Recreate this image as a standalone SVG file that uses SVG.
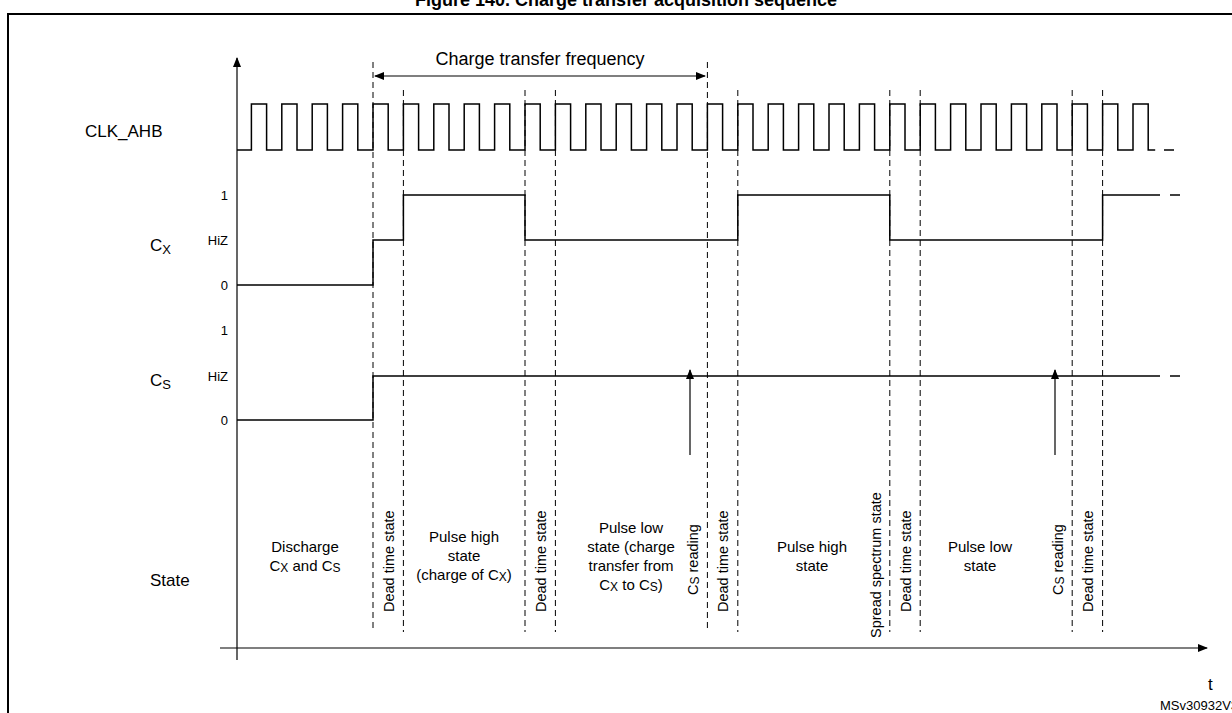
<svg xmlns="http://www.w3.org/2000/svg" width="1232" height="713" viewBox="0 0 1232 713">
<defs>
<marker id="ah" markerWidth="10" markerHeight="8" refX="9" refY="4" orient="auto" markerUnits="userSpaceOnUse"><path d="M0,0 L10,4 L0,8 z" fill="#000"/></marker>
<marker id="ahs" markerWidth="10" markerHeight="8" refX="1" refY="4" orient="auto" markerUnits="userSpaceOnUse"><path d="M10,0 L0,4 L10,8 z" fill="#000"/></marker>
</defs>
<style>
text{font-family:"Liberation Sans",Arial,sans-serif;fill:#000}
.l{font-size:17px}
.s{font-size:13px;text-anchor:end}
.m{font-size:15px;text-anchor:middle}
.r{font-size:14.5px}
.w{fill:none;stroke:#000;stroke-width:1.5}
.d{stroke:#000;stroke-width:1;stroke-dasharray:6,4}
.a{stroke:#000;stroke-width:1.2;fill:none}
</style>
<rect width="1232" height="713" fill="#fff"/>
<text x="626" y="6" font-size="18" font-weight="bold" text-anchor="middle">Figure 140. Charge transfer acquisition sequence</text>
<path d="M8,713 V14 H1232" fill="none" stroke="#000" stroke-width="2"/>
<g id="labels">
<text class="l" x="85" y="137">CLK_AHB</text>
<text class="l" x="150" y="251">C<tspan font-size="13" dy="3">X</tspan></text>
<text class="l" x="150" y="386">C<tspan font-size="13" dy="3">S</tspan></text>
<text class="l" x="150" y="586">State</text>
<text class="s" x="228" y="200">1</text>
<text class="s" x="228" y="245">HiZ</text>
<text class="s" x="228" y="290">0</text>
<text class="s" x="228" y="335">1</text>
<text class="s" x="228" y="381">HiZ</text>
<text class="s" x="228" y="425">0</text>
<text class="l" x="1208" y="690">t</text>
<text x="1160" y="710" font-size="13">MSv30932V3</text>
</g>
<g id="connectors">
<line class="a" x1="237" y1="660" x2="237" y2="58" marker-end="url(#ah)"/>
<line class="a" x1="220" y1="648" x2="1207" y2="648" marker-end="url(#ah)"/>
<line class="a" x1="375" y1="76" x2="705" y2="76" marker-start="url(#ahs)" marker-end="url(#ah)"/>
<line class="a" x1="690" y1="455" x2="690" y2="370" marker-end="url(#ah)"/>
<line class="a" x1="1055" y1="455" x2="1055" y2="370" marker-end="url(#ah)"/>
</g>
<text x="540" y="65" font-size="18" text-anchor="middle">Charge transfer frequency</text>
<g id="dashes">
<line class="d" x1="373" y1="62" x2="373" y2="632"/>
<line class="d" x1="707.4" y1="62" x2="707.4" y2="632"/>
<line class="d" x1="403.4" y1="90" x2="403.4" y2="632"/>
<line class="d" x1="525" y1="90" x2="525" y2="632"/>
<line class="d" x1="555.4" y1="90" x2="555.4" y2="632"/>
<line class="d" x1="737.8" y1="90" x2="737.8" y2="632"/>
<line class="d" x1="889.8" y1="90" x2="889.8" y2="632"/>
<line class="d" x1="920.2" y1="90" x2="920.2" y2="632"/>
<line class="d" x1="1072.2" y1="90" x2="1072.2" y2="632"/>
<line class="d" x1="1102.6" y1="90" x2="1102.6" y2="632"/>
</g>
<g id="clk">
<path class="w" d="M237,150 H251.4 v-46h15.2v46h15.2 v-46h15.2v46h15.2 v-46h15.2v46h15.2 v-46h15.2v46h15.2 v-46h15.2v46h15.2 v-46h15.2v46h15.2 v-46h15.2v46h15.2 v-46h15.2v46h15.2 v-46h15.2v46h15.2 v-46h15.2v46h15.2 v-46h15.2v46h15.2 v-46h15.2v46h15.2 v-46h15.2v46h15.2 v-46h15.2v46h15.2 v-46h15.2v46h15.2 v-46h15.2v46h15.2 v-46h15.2v46h15.2 v-46h15.2v46h15.2 v-46h15.2v46h15.2 v-46h15.2v46h15.2 v-46h15.2v46h15.2 v-46h15.2v46h15.2 v-46h15.2v46h15.2 v-46h15.2v46h15.2 v-46h15.2v46h15.2 v-46h15.2v46h15.2 v-46h15.2v46h15.2 v-46h15.2v46h15.2 v-46h15.2v46h15.2 v-46h15.2v46h7"/>
<line class="w" x1="1164" y1="150" x2="1174" y2="150"/>
</g>
<g id="cx">
<path class="w" d="M237,285 H373 V240 H403.4 V195 H525 V240 H737.8 V195 H889.8 V240 H1102.6 V195 H1160"/>
<line class="w" x1="1170" y1="195" x2="1180" y2="195"/>
</g>
<g id="cs">
<path class="w" d="M237,420 H373 V376 H1160"/>
<line class="w" x1="1170" y1="376" x2="1180" y2="376"/>
</g>
<g id="states">
<text class="m" x="305" y="552">Discharge</text>
<text class="m" x="305" y="571">C<tspan font-size="12" dy="1">X</tspan><tspan dy="-1"> and C</tspan><tspan font-size="12" dy="1">S</tspan></text>
<text class="m" x="464" y="542">Pulse high</text>
<text class="m" x="464" y="561">state</text>
<text class="m" x="464" y="580">(charge of C<tspan font-size="12" dy="1">X</tspan><tspan dy="-1">)</tspan></text>
<text class="m" x="631" y="533">Pulse low</text>
<text class="m" x="631" y="552">state (charge</text>
<text class="m" x="631" y="571">transfer from</text>
<text class="m" x="631" y="590">C<tspan font-size="12" dy="1">X</tspan><tspan dy="-1"> to C</tspan><tspan font-size="12" dy="1">S</tspan><tspan dy="-1">)</tspan></text>
<text class="m" x="812" y="552">Pulse high</text>
<text class="m" x="812" y="571">state</text>
<text class="m" x="980" y="552">Pulse low</text>
<text class="m" x="980" y="571">state</text>
<text class="r" transform="translate(394,612) rotate(-90)">Dead time state</text>
<text class="r" transform="translate(546,612) rotate(-90)">Dead time state</text>
<text class="r" transform="translate(728,612) rotate(-90)">Dead time state</text>
<text class="r" transform="translate(911,612) rotate(-90)">Dead time state</text>
<text class="r" transform="translate(1093,612) rotate(-90)">Dead time state</text>
<text class="r" transform="translate(881,638) rotate(-90)">Spread spectrum state</text>
<text class="r" transform="translate(698,595) rotate(-90)">C<tspan font-size="12" dy="1">S</tspan><tspan dy="-1"> reading</tspan></text>
<text class="r" transform="translate(1063,595) rotate(-90)">C<tspan font-size="12" dy="1">S</tspan><tspan dy="-1"> reading</tspan></text>
</g>
</svg>
